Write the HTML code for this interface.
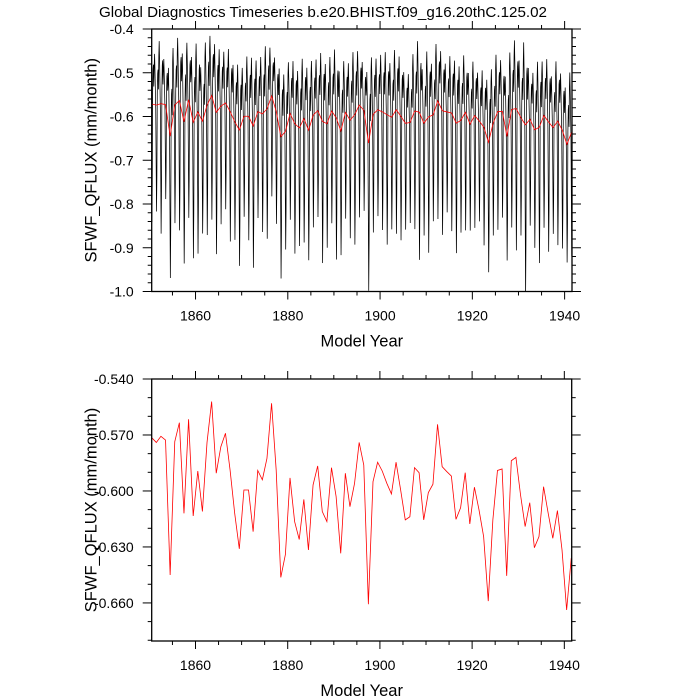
<!DOCTYPE html>
<html><head><meta charset="utf-8"><style>
html,body{margin:0;padding:0;background:#fff;}
svg{display:block;font-family:"Liberation Sans",sans-serif;}
</style></head><body>
<svg id="chart" width="700" height="700" viewBox="0 0 700 700">
<defs>
<clipPath id="clipTop"><rect x="151.7" y="29" width="420.3" height="262.5"/></clipPath>
<clipPath id="clipBot"><rect x="151.7" y="379" width="420" height="262"/></clipPath>
</defs>
<text x="99" y="17" font-size="15" textLength="448" lengthAdjust="spacingAndGlyphs">Global Diagnostics Timeseries b.e20.BHIST.f09_g16.20thC.125.02</text>
<g id="top"></g>
<g id="bot"></g>
</svg>
<script>
const years = [];
for (let y = 1850; y <= 1941; y++) years.push(y);
const annualMean = [-0.5714,-0.574,-0.5707,-0.5727,-0.645,-0.5736,-0.5634,-0.612,-0.5616,-0.6134,
-0.5893,-0.611,-0.574,-0.5521,-0.5905,-0.5763,-0.5691,-0.5888,-0.612,-0.631,
-0.5995,-0.5995,-0.6218,-0.589,-0.594,-0.5825,-0.553,-0.5888,-0.6463,-0.634,
-0.593,-0.6164,-0.626,-0.6045,-0.6316,-0.5968,-0.5866,-0.611,-0.6164,-0.5875,
-0.603,-0.6334,-0.5905,-0.6084,-0.5959,-0.574,-0.5861,-0.6607,-0.595,-0.5846,
-0.5893,-0.5959,-0.6016,-0.5846,-0.5995,-0.6155,-0.6138,-0.5875,-0.5902,-0.6155,
-0.6009,-0.5964,-0.5643,-0.587,-0.5896,-0.592,-0.6152,-0.609,-0.5902,-0.6177,
-0.598,-0.6102,-0.6245,-0.659,-0.6155,-0.589,-0.5882,-0.6455,-0.5838,-0.582,
-0.6021,-0.6191,-0.6063,-0.6304,-0.6245,-0.5977,-0.612,-0.6254,-0.6105,-0.6316,
-0.6638,-0.636];
const monthlyAnomaly = [0.1,0.13,0.09,0.04,-0.01,-0.14,-0.27,-0.18,0.03,0.08,0.09,0.04];
const seasonalAmp = [1.0,0.9,1.1,0.8,1.2,1.0,1.1,1.2,1.0,1.15,
1.2,0.95,1.1,1.05,1.2,1.0,0.9,1.1,1.0,1.15,
0.85,1.05,1.2,0.9,1.0,1.1,0.85,0.95,1.2,1.0,
0.9,1.1,1.0,1.05,1.1,0.95,0.9,1.2,1.05,0.95,
1.2,1.05,0.9,1.0,1.1,0.95,0.85,1.25,1.0,0.9,
1.0,1.1,0.95,1.05,1.05,0.9,0.85,1.0,1.25,0.95,
1.15,0.9,1.0,1.05,0.85,1.0,1.1,0.95,1.0,0.9,
0.95,0.85,1.0,1.1,0.95,1.0,0.9,1.05,1.0,1.2,
1.0,1.45,0.9,1.0,1.15,0.95,1.1,0.9,1.05,1.0,
1.0,1.05];
const topYTicks = ["-0.4","-0.5","-0.6","-0.7","-0.8","-0.9","-1.0"];
const botYTicks = ["-0.540","-0.570","-0.600","-0.630","-0.660"];
const xTickLabels = ["1860","1880","1900","1920","1940"];

const NS = "http://www.w3.org/2000/svg";
function mk(parent, tag, attrs) {
  const e = document.createElementNS(NS, tag);
  for (const k in attrs) e.setAttribute(k, attrs[k]);
  parent.appendChild(e);
  return e;
}
function panel(g, box, xd, yd, yTicks, yMinorStep, series, nameTop, clipId) {
  const sx = v => box.l + (v - xd[0]) / (xd[1] - xd[0]) * (box.r - box.l);
  const sy = v => box.t + (yd[1] - v) / (yd[1] - yd[0]) * (box.b - box.t);
  const sg = mk(g, "g", {"clip-path": "url(#" + clipId + ")"});
  
  
  series.forEach(s => {
    const p = mk(sg, "polyline", {points: s.pts.map(d => sx(d[0]).toFixed(2) + "," + sy(d[1]).toFixed(2)).join(" "), fill: "none", stroke: s.color, "stroke-width": s.w});
    
    
  });
  const fr = mk(g, "rect", {x: box.l, y: box.t, width: box.r - box.l, height: box.b - box.t, fill: "none", stroke: "#000", "stroke-width": 1.3});
  
  
  const tk = mk(g, "g", {stroke: "#000", "stroke-width": 1});
  
  
  for (let y = 1855; y <= 1940; y += 5) {
    const x = sx(y), L = (y % 20 === 0) ? 8 : 4;
    mk(tk, "line", {x1: x, x2: x, y1: box.b, y2: box.b + L});
    mk(tk, "line", {x1: x, x2: x, y1: box.t, y2: box.t - L});
  }
  xTickLabels.forEach(t => {
    const e = mk(g, "text", {x: sx(+t), y: box.b + 29, "font-size": 14, "text-anchor": "middle"});
    e.textContent = t;
    
    
  });
  const nMinor = Math.round((yd[1] - yd[0]) / yMinorStep);
  for (let i = 0; i <= nMinor; i++) {
    const v = yd[1] - i * yMinorStep;
    const isMaj = yTicks.some(t => Math.abs(+t - v) < 1e-6);
    const L = isMaj ? 9 : 4, y = sy(v);
    mk(tk, "line", {x1: box.l, x2: box.l - L, y1: y, y2: y});
    mk(tk, "line", {x1: box.r, x2: box.r + L, y1: y, y2: y});
  }
  yTicks.forEach(t => {
    const e = mk(g, "text", {x: box.l - 18, y: sy(+t) + 5, "font-size": 14, "text-anchor": "end"});
    e.textContent = t;
    
    
  });
  const xt = mk(g, "text", {x: (box.l + box.r) / 2, y: box.b + 55, "font-size": 16.5, "text-anchor": "middle"});
  xt.textContent = "Model Year";
  
  
  const cy = (box.t + box.b) / 2;
  const yt = mk(g, "text", {x: 0, y: 0, "font-size": 16.5, "text-anchor": "middle", transform: "translate(" + (box.l - 55) + "," + cy + ") rotate(-90)"});
  yt.textContent = "SFWF_QFLUX (mm/month)";
  
  
}
const annualPts = years.map((y, i) => [y + 0.5, annualMean[i]]);
const monthlyPts = [];
years.forEach((y, i) => monthlyAnomaly.forEach((a, m) => monthlyPts.push([y + (m + 0.5) / 12, annualMean[i] + a * seasonalAmp[i]])));
panel(document.getElementById("top"), {l: 151.7, r: 572, t: 29, b: 291.5}, [1850.5, 1941.6], [-1.0, -0.4], topYTicks, 0.02,
  [{pts: monthlyPts, color: "#000", w: 0.75, name: "monthly-series-line"}, {pts: annualPts, color: "#f00", w: 0.8, name: "annual-mean-line-top"}], "top", "clipTop");
panel(document.getElementById("bot"), {l: 151.7, r: 571.7, t: 379, b: 641}, [1850.5, 1941.6], [-0.6804, -0.54], botYTicks, 0.01,
  [{pts: annualPts, color: "#f00", w: 0.8, name: "annual-mean-line"}], "bottom", "clipBot");
</script>
</body></html>
